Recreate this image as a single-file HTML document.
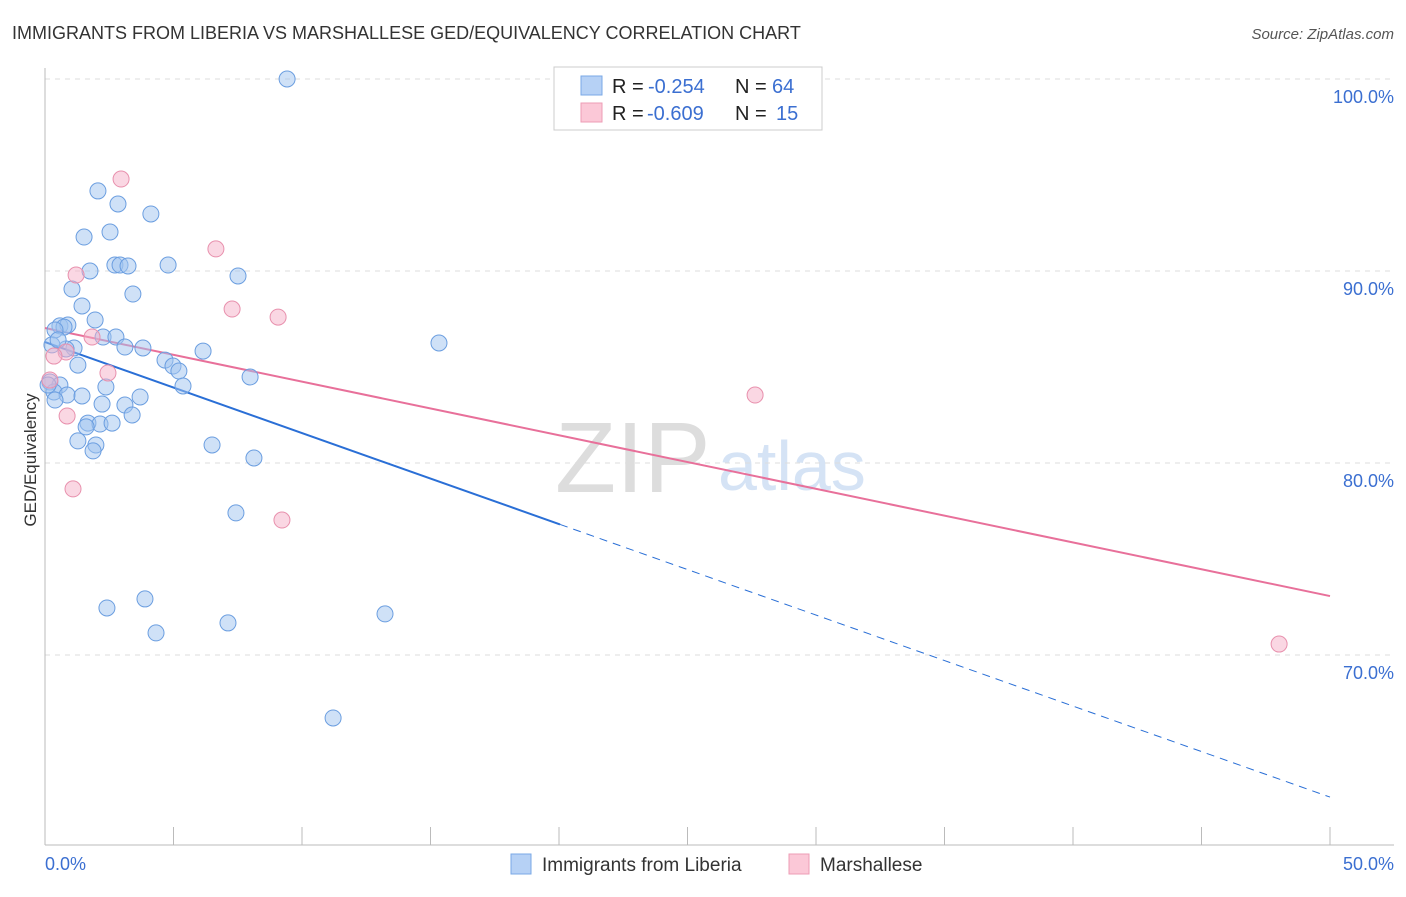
<!DOCTYPE html>
<html><head><meta charset="utf-8"><style>
body{margin:0;background:#fff;font-family:"Liberation Sans",sans-serif;}
svg text{font-family:"Liberation Sans",sans-serif;}
</style></head><body>
<svg id="chart" width="1406" height="892">
<text x="12" y="39" font-size="18" fill="#333">IMMIGRANTS FROM LIBERIA VS MARSHALLESE GED/EQUIVALENCY CORRELATION CHART</text>
<text x="1394" y="39" font-size="15" fill="#555" font-style="italic" text-anchor="end">Source: ZipAtlas.com</text>
<text x="36" y="460" font-size="17" fill="#333" transform="rotate(-90 36 460)" text-anchor="middle">GED/Equivalency</text>
<g><text x="555" y="492" font-size="100" fill="#ddd" font-family="Liberation Serif">ZIP</text><text x="718" y="490" font-size="70" fill="#d5e3f5">atlas</text></g>
<g id="grid"></g><g id="axes"></g><g id="lines"></g><g id="pts"></g>
<g>
<rect x="554" y="67" width="268" height="63" fill="#fff" stroke="#ccc"/>
<rect x="581" y="76" width="21" height="19" fill="#b6d1f5" stroke="#7aa8e6"/>
<rect x="581" y="103" width="21" height="19" fill="#fbc8d7" stroke="#ee9cb6"/>
<text x="612" y="93" font-size="20" fill="#222">R =</text><text x="648" y="93" font-size="20" fill="#3b6fd1">-0.254</text>
<text x="735" y="93" font-size="20" fill="#222">N =</text><text x="772" y="93" font-size="20" fill="#3b6fd1">64</text>
<text x="612" y="120" font-size="20" fill="#222">R =</text><text x="647" y="120" font-size="20" fill="#3b6fd1">-0.609</text>
<text x="735" y="120" font-size="20" fill="#222">N =</text><text x="776" y="120" font-size="20" fill="#3b6fd1">15</text>
</g>
<g>
<rect x="511" y="854" width="20" height="20" fill="#b6d1f5" stroke="#7aa8e6"/>
<text x="542" y="871" font-size="19" fill="#333">Immigrants from Liberia</text>
<rect x="789" y="854" width="20" height="20" fill="#fbc8d7" stroke="#ee9cb6"/>
<text x="820" y="871" font-size="19" fill="#333">Marshallese</text>
</g>
<text x="45" y="870" font-size="18" fill="#3b6fd1">0.0%</text>
<text x="1394" y="870" font-size="18" fill="#3b6fd1" text-anchor="end">50.0%</text>
</svg>
<script>
const yTicks=[100,90,80,70];
const yTickLabels=["100.0%","90.0%","80.0%","70.0%"];
const blueX=[9.42,2.06,2.84,4.12,1.52,2.53,2.72,2.92,3.23,4.79,1.75,7.51,1.05,3.42,1.44,1.95,0.58,0.89,0.74,0.39,2.26,2.76,3.11,3.81,1.13,0.82,0.27,6.15,4.67,4.98,1.28,5.21,7.98,0.19,0.58,5.37,2.37,0.35,0.86,1.44,3.70,0.39,2.22,3.11,3.39,1.67,2.14,2.61,1.60,1.28,1.98,1.87,6.50,8.13,7.43,15.33,3.89,2.41,4.32,7.12,13.23,11.21,0.12,0.51];
const blueY=[100.0,94.17,93.49,92.97,91.77,92.03,90.31,90.31,90.26,90.31,90.0,89.74,89.06,88.80,88.18,87.45,87.14,87.19,87.08,86.93,86.56,86.56,86.04,85.99,85.99,85.94,86.15,85.83,85.36,85.05,85.10,84.79,84.48,84.22,84.06,84.01,83.96,83.70,83.54,83.49,83.44,83.28,83.07,83.02,82.50,82.08,82.03,82.08,81.88,81.15,80.94,80.63,80.94,80.26,77.40,86.25,72.92,72.45,71.15,71.67,72.14,66.72,84.06,86.41];
const pinkX=[2.96,6.65,1.21,7.28,9.07,1.83,0.82,0.35,2.45,0.86,1.09,9.22,27.63,48.02,0.19];
const pinkY=[94.79,91.15,89.79,88.02,87.60,86.56,85.78,85.57,84.69,82.45,78.65,77.03,83.54,70.57,84.32];
const blueTrend=[86.30,62.60];
const blueSolidEnd=20.04;
const pinkTrend=[87.03,73.07];
const NS="http://www.w3.org/2000/svg";
const sx=v=>45+v*25.7;
const sy=v=>79+(100-v)*19.2;
function mk(t,a,p){const e=document.createElementNS(NS,t);for(const k in a)e.setAttribute(k,a[k]);document.getElementById(p).appendChild(e);return e;}
yTicks.forEach((t,i)=>{
 const g=mk('line',{x1:45,x2:1394,y1:sy(t),y2:sy(t),stroke:'#ddd','stroke-dasharray':'5,5'},'grid');
 
 
 const l=mk('text',{x:1394,y:sy(t)+24,'font-size':18,fill:'#3b6fd1','text-anchor':'end'},'grid');
 l.textContent=yTickLabels[i];
 
 
});
const ya=mk('line',{x1:45,x2:45,y1:68,y2:845,stroke:'#bbb'},'axes');


const xa=mk('line',{x1:45,x2:1394,y1:845,y2:845,stroke:'#bbb'},'axes');


for(let i=0;i<=10;i++){
 const tk=mk('line',{x1:sx(i*5),x2:sx(i*5),y1:827,y2:845,stroke:'#bbb'},'axes');
 
 
}
const ty=x=>blueTrend[0]+(blueTrend[1]-blueTrend[0])*x/50;
const b1=mk('line',{x1:sx(0),y1:sy(ty(0)),x2:sx(blueSolidEnd),y2:sy(ty(blueSolidEnd)),stroke:'#2a6fd6','stroke-width':2},'lines');


const b2=mk('line',{x1:sx(blueSolidEnd),y1:sy(ty(blueSolidEnd)),x2:sx(50),y2:sy(ty(50)),stroke:'#2a6fd6','stroke-width':1,'stroke-dasharray':'8,6'},'lines');


const p1=mk('line',{x1:sx(0),y1:sy(pinkTrend[0]),x2:sx(50),y2:sy(pinkTrend[1]),stroke:'#e8709a','stroke-width':2},'lines');


blueX.forEach((x,i)=>{
 const c=mk('circle',{cx:sx(x),cy:sy(blueY[i]),r:8,fill:'rgba(160,195,240,0.5)',stroke:'#6b9ee0','stroke-width':1},'pts');
 
 
});
pinkX.forEach((x,i)=>{
 const c=mk('circle',{cx:sx(x),cy:sy(pinkY[i]),r:8,fill:'rgba(245,175,200,0.5)',stroke:'#e890ad','stroke-width':1},'pts');
 
 
});
</script>
</body></html>
